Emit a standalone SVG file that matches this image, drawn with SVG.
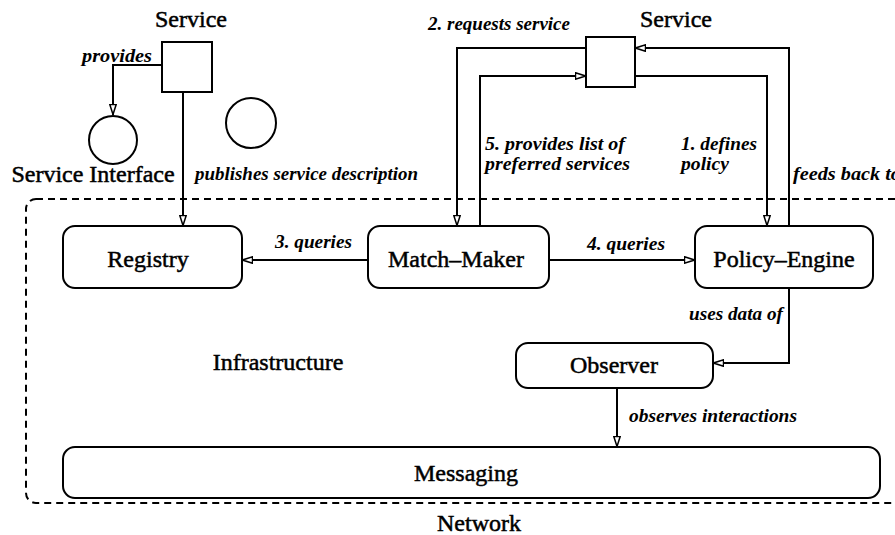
<svg xmlns="http://www.w3.org/2000/svg" width="895" height="535" viewBox="0 0 895 535">
<style>
.box{fill:#fff;stroke:#000;stroke-width:2}
.lbl{font-family:"Liberation Serif",serif;font-size:24px;fill:#000;stroke:#000;stroke-width:0.5;text-anchor:middle}
.it{font-family:"Liberation Serif",serif;font-weight:bold;font-style:italic;font-size:18px;fill:#000}
.con{fill:none;stroke:#000;stroke-width:2;marker-end:url(#ah)}
</style>
<defs>
<marker id="ah" viewBox="0 0 11 8" refX="11" refY="4" markerWidth="11" markerHeight="8" markerUnits="userSpaceOnUse" orient="auto">
<path d="M0.5,0.8 L10.5,4 L0.5,7.2 z" fill="#fff" stroke="#000" stroke-width="1.5"/>
</marker>
</defs>
<rect width="895" height="535" fill="#fff"/>
<g id="infrastructure">
<rect x="26" y="199" width="890" height="304" rx="10" fill="none" stroke="#000" stroke-width="2" stroke-dasharray="7,5"/>
<text class="lbl" x="278" y="370">Infrastructure</text>
<text class="lbl" x="479" y="531">Network</text>
</g>
<g id="connectors">
<path class="con" d="M162,65 H113 V115"/>
<path class="con" d="M183,92 V226"/>
<path class="con" d="M586,48 H457 V226"/>
<path class="con" d="M480,226 V76 H586"/>
<path class="con" d="M635,76 H767 V226"/>
<path class="con" d="M789,226 V48 H635"/>
<path class="con" d="M368,260 H242"/>
<path class="con" d="M549,260 H695"/>
<path class="con" d="M789,288 V363 H713"/>
<path class="con" d="M617,388 V447"/>
<text class="it" x="82" y="62" textLength="70" lengthAdjust="spacingAndGlyphs">provides</text>
<text class="it" x="195" y="180" textLength="223" lengthAdjust="spacingAndGlyphs">publishes service description</text>
<text class="it" x="428" y="30" textLength="142" lengthAdjust="spacingAndGlyphs">2. requests service</text>
<text class="it" x="485" y="150" textLength="140" lengthAdjust="spacingAndGlyphs">5. provides list of</text>
<text class="it" x="485" y="170" textLength="145" lengthAdjust="spacingAndGlyphs">preferred services</text>
<text class="it" x="681" y="150" textLength="76" lengthAdjust="spacingAndGlyphs">1. defines</text>
<text class="it" x="681" y="170" textLength="48" lengthAdjust="spacingAndGlyphs">policy</text>
<text class="it" x="793" y="180" textLength="108" lengthAdjust="spacingAndGlyphs">feeds back to</text>
<text class="it" x="275" y="248" textLength="77" lengthAdjust="spacingAndGlyphs">3. queries</text>
<text class="it" x="587" y="250" textLength="78" lengthAdjust="spacingAndGlyphs">4. queries</text>
<text class="it" x="689" y="320" textLength="94" lengthAdjust="spacingAndGlyphs">uses data of</text>
<text class="it" x="629" y="422" textLength="168" lengthAdjust="spacingAndGlyphs">observes interactions</text>
</g>
<g id="service1">
<rect class="box" x="162" y="42" width="50" height="50"/>
<text class="lbl" x="191" y="27">Service</text>
</g>
<g id="service-interface">
<circle class="box" cx="113" cy="140" r="24"/>
<text class="lbl" x="93" y="182">Service Interface</text>
</g>
<g id="circle2">
<circle class="box" cx="251" cy="123" r="25"/>
</g>
<g id="service2">
<rect class="box" x="586" y="37" width="49" height="50"/>
<text class="lbl" x="676" y="27">Service</text>
</g>
<g id="registry">
<rect class="box" x="63" y="226" width="179" height="62" rx="12"/>
<text class="lbl" x="148" y="267">Registry</text>
</g>
<g id="match-maker">
<rect class="box" x="368" y="226" width="181" height="62" rx="12"/>
<text class="lbl" x="456" y="267">Match–Maker</text>
</g>
<g id="policy-engine">
<rect class="box" x="695" y="226" width="178" height="62" rx="12"/>
<text class="lbl" x="784" y="267">Policy–Engine</text>
</g>
<g id="observer">
<rect class="box" x="516" y="343" width="197" height="45" rx="12"/>
<text class="lbl" x="614" y="373">Observer</text>
</g>
<g id="messaging">
<rect class="box" x="63" y="447" width="817" height="51" rx="12"/>
<text class="lbl" x="466" y="481">Messaging</text>
</g>
</svg>
